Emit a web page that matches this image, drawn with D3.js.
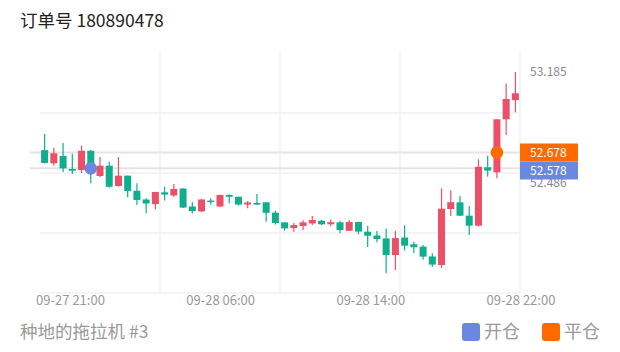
<!DOCTYPE html>
<html>
<head>
<meta charset="utf-8">
<script src="https://cdn.jsdelivr.net/npm/d3@7/dist/d3.min.js"></script>
<style>
  html, body { margin: 0; padding: 0; background: #fff; }
  svg { display: block; font-family: "Noto Sans CJK SC", "Noto Sans", sans-serif; }
</style>
</head>
<body>
<svg id="chart" width="620" height="352"></svg>
<script>
const titleText = "订单号 180890478";
const footerText = "种地的拖拉机 #3";
const legendItems = ["开仓", "平仓"];
const xLabels = ["09-27 21:00", "09-28 06:00", "09-28 14:00", "09-28 22:00"];
const yTickValues = [53.185, 52.486];
const gridPrices = [52.926, 52.549, 52.171];

const openP = [52.693,52.610,52.656,52.574,52.568,52.689,52.530,52.595,52.467,52.532,52.437,52.382,52.353,52.427,52.407,52.451,52.338,52.307,52.375,52.338,52.410,52.399,52.350,52.360,52.364,52.299,52.238,52.202,52.215,52.231,52.248,52.226,52.238,52.185,52.240,52.179,52.155,52.137,52.032,52.142,52.100,52.085,52.023,51.969,52.322,52.364,52.280,52.217,52.585,52.553,52.887,53.008];
const highP = [52.794,52.708,52.738,52.670,52.721,52.693,52.649,52.620,52.649,52.533,52.484,52.389,52.431,52.462,52.479,52.452,52.366,52.385,52.389,52.413,52.415,52.401,52.372,52.416,52.365,52.311,52.239,52.234,52.251,52.278,52.253,52.256,52.248,52.253,52.242,52.216,52.183,52.200,52.183,52.219,52.116,52.095,52.043,52.452,52.440,52.404,52.341,52.635,52.658,52.889,53.113,53.185];
const lowP = [52.608,52.595,52.555,52.542,52.549,52.484,52.523,52.456,52.462,52.396,52.347,52.295,52.320,52.375,52.397,52.328,52.294,52.303,52.350,52.335,52.358,52.343,52.326,52.348,52.242,52.224,52.187,52.179,52.190,52.221,52.221,52.213,52.169,52.183,52.163,52.083,52.112,51.917,51.938,52.061,52.045,52.003,51.957,51.950,52.278,52.278,52.158,52.212,52.525,52.515,52.788,52.931];
const closeP = [52.612,52.673,52.578,52.563,52.689,52.561,52.595,52.462,52.532,52.435,52.379,52.357,52.429,52.413,52.448,52.331,52.309,52.382,52.366,52.410,52.399,52.350,52.363,52.350,52.298,52.234,52.200,52.221,52.238,52.253,52.226,52.239,52.190,52.240,52.180,52.154,52.133,52.032,52.139,52.091,52.081,52.022,51.972,52.324,52.365,52.280,52.217,52.588,52.564,52.887,53.015,53.051];

const openTrade = { index: 5, price: 52.578 };
const closeTrade = { index: 49, price: 52.678 };

const UP = "#ec5068", DOWN = "#0fae8c", BLUE = "#6b88e0", ORANGE = "#ff6a00";

const svg = d3.select("#chart");
const plotLeft = 40, plotRight = 520, plotTop = 52, plotBottom = 293;

const x = d3.scaleBand().domain(d3.range(openP.length)).range([plotLeft, plotRight]).padding(0);
const y = d3.scaleLinear().domain([51.793, 53.292]).range([plotBottom, 55]);
const gx = d3.scaleLinear().domain([0, 4]).range([plotLeft, plotRight]);
const xl = d3.scalePoint().domain(xLabels).range([70.5, 521]);

// grid
const grid = svg.append("g");
grid.selectAll("line.v").data([1, 2, 3, 4]).join("line")
  .attr("x1", d => gx(d)).attr("x2", d => gx(d))
  .attr("y1", plotTop).attr("y2", plotBottom)
  .attr("stroke", "#f1f1f1").attr("stroke-width", 1.5);
grid.selectAll("line.h").data(gridPrices).join("line")
  .attr("x1", plotLeft).attr("x2", plotRight)
  .attr("y1", d => y(d)).attr("y2", d => y(d))
  .attr("stroke", "#f1f1f1").attr("stroke-width", 1.5);
grid.append("line").attr("x1", plotLeft).attr("x2", plotRight)
  .attr("y1", plotBottom).attr("y2", plotBottom)
  .attr("stroke", "#f1f1f1").attr("stroke-width", 1.5);

// trade price lines
[openTrade, closeTrade].forEach(t => {
  svg.append("line").attr("x1", 30).attr("x2", plotRight)
    .attr("y1", y(t.price)).attr("y2", y(t.price))
    .attr("stroke", "#e4e4e4").attr("stroke-width", 2);
});

// candles
const data = openP.map((o, i) => ({ i, o, h: highP[i], l: lowP[i], c: closeP[i] }));
const bw = x.bandwidth() * 0.76;
const cg = svg.append("g");
const cand = cg.selectAll("g").data(data).join("g");
cand.append("line")
  .attr("x1", d => x(d.i) + x.bandwidth() / 2).attr("x2", d => x(d.i) + x.bandwidth() / 2)
  .attr("y1", d => y(d.h)).attr("y2", d => y(d.l))
  .attr("stroke", d => d.c >= d.o ? UP : DOWN).attr("stroke-width", 1.2);
cand.append("rect")
  .attr("x", d => x(d.i) + (x.bandwidth() - bw) / 2)
  .attr("width", bw)
  .attr("y", d => y(Math.max(d.o, d.c)))
  .attr("height", d => Math.max(1.5, Math.abs(y(d.o) - y(d.c))))
  .attr("fill", d => d.c >= d.o ? UP : DOWN);

// trade dots
svg.append("circle").attr("cx", x(openTrade.index) + x.bandwidth() / 2).attr("cy", y(openTrade.price))
  .attr("r", 6.3).attr("fill", BLUE);
svg.append("circle").attr("cx", x(closeTrade.index) + x.bandwidth() / 2).attr("cy", y(closeTrade.price))
  .attr("r", 6.3).attr("fill", ORANGE);

// right axis ticks
svg.selectAll("text.yt").data(yTickValues).join("text")
  .attr("x", 530).attr("y", d => y(d)).attr("dy", "0.35em")
  .attr("font-size", 12).attr("fill", "#8a8a8a")
  .text(d => d3.format(".3f")(d));

// price label boxes
const boxH = 18;
const cY = y(closeTrade.price);
const oY = Math.max(y(openTrade.price), cY + boxH);
svg.append("rect").attr("x", plotRight).attr("y", cY - boxH / 2).attr("width", 58).attr("height", boxH).attr("fill", ORANGE);
svg.append("text").attr("x", 530).attr("y", cY).attr("dy", "0.35em").attr("font-size", 12).attr("fill", "#fff")
  .text(d3.format(".3f")(closeTrade.price));
svg.append("rect").attr("x", plotRight).attr("y", oY - boxH / 2).attr("width", 58).attr("height", boxH).attr("fill", BLUE);
svg.append("text").attr("x", 530).attr("y", oY).attr("dy", "0.35em").attr("font-size", 12).attr("fill", "#fff")
  .text(d3.format(".3f")(openTrade.price));

// x labels
svg.selectAll("text.xt").data(xLabels).join("text")
  .attr("x", d => xl(d)).attr("y", 300).attr("dy", "0.35em")
  .attr("text-anchor", "middle").attr("font-size", 13).attr("fill", "#999")
  .text(d => d);

// title
svg.append("text").attr("x", 20).attr("y", 21).attr("dy", "0.35em")
  .attr("font-size", 17.5).attr("fill", "#222").text(titleText);

// footer
svg.append("text").attr("x", 20).attr("y", 332).attr("dy", "0.35em")
  .attr("font-size", 17.5).attr("fill", "#999").text(footerText);

// legend
const legColors = [BLUE, ORANGE];
const legX = [462, 542];
legendItems.forEach((t, i) => {
  svg.append("rect").attr("x", legX[i]).attr("y", 323).attr("width", 18).attr("height", 18)
    .attr("rx", 3).attr("fill", legColors[i]);
  svg.append("text").attr("x", legX[i] + 22).attr("y", 332).attr("dy", "0.35em")
    .attr("font-size", 18).attr("fill", "#999").text(t);
});
</script>
</body>
</html>
